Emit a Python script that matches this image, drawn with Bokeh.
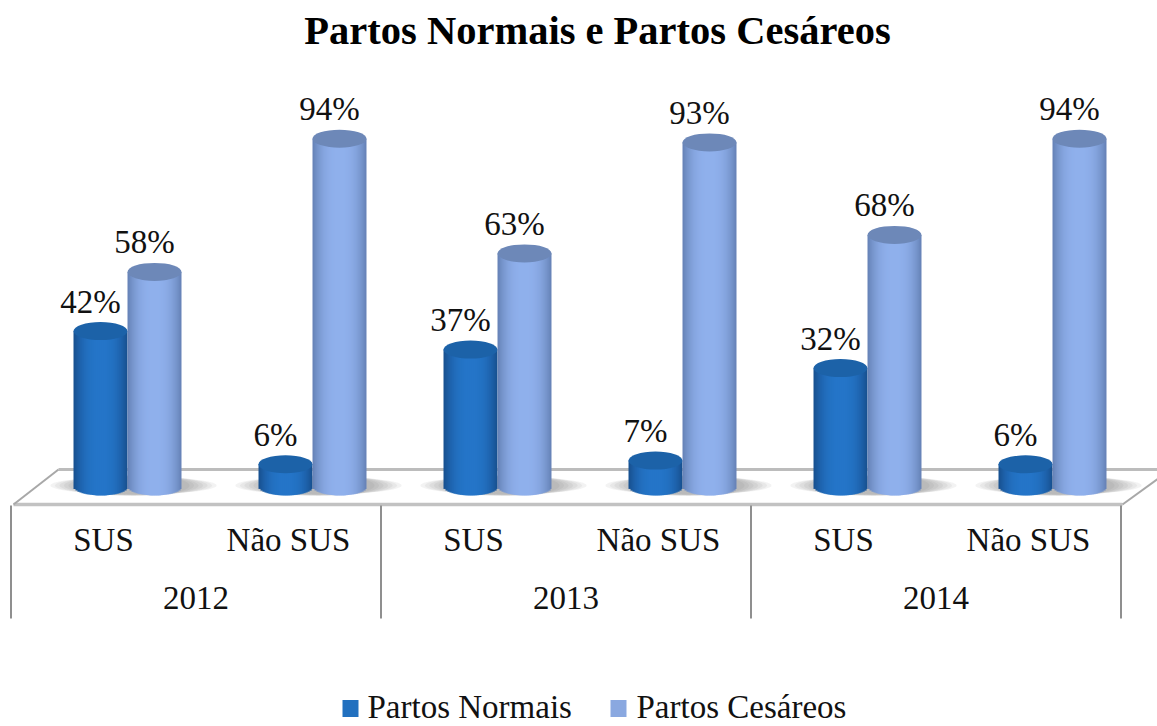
from bokeh.embed import file_html
from bokeh.resources import INLINE
from bokeh.plotting import figure
from bokeh.core.properties import value
from bokeh.models import ColumnDataSource

title = "Partos Normais e Partos Cesáreos"
years = ["2012", "2013", "2014"]
categories = ["SUS", "Não SUS", "SUS", "Não SUS", "SUS", "Não SUS"]
series_names = ["Partos Normais", "Partos Cesáreos"]
normais = [42, 6, 37, 7, 32, 6]
cesareos = [58, 94, 63, 93, 68, 94]

W, H = 1157, 726
SX = 185.0       # px per category
SY = 3.7         # px per percent
X0 = 103.0       # picture x of category 0 label
Y0 = 486.0       # picture y of 0 %
BAR = 54.0
ELL = 18.0
FONT = value("Liberation Serif")


def fx(px):
    return (px - X0) / SX


def fy(py):
    return (Y0 - py) / SY


def hexmix(a, b, t):
    ca = [int(a[i:i + 2], 16) for i in (1, 3, 5)]
    cb = [int(b[i:i + 2], 16) for i in (1, 3, 5)]
    return "#%02x%02x%02x" % tuple(round(x + (y - x) * t) for x, y in zip(ca, cb))


p = figure(width=W, height=H, output_backend="svg", toolbar_location=None,
           x_range=(fx(0), fx(W)), y_range=(fy(H), fy(0)),
           min_border=0, outline_line_color=None, background_fill_color="white")
p.xaxis.visible = False
p.yaxis.visible = False
p.grid.visible = False

# floor of the 3D chart
p.patch([fx(13), fx(58), fx(1180), fx(1122)], [fy(504), fy(469), fy(469), fy(504)],
        fill_color="#ffffff", line_color=None)
p.line([fx(58), fx(1180)], [fy(469)] * 2, line_color="#bcbcbc", line_width=3)
p.line([fx(13), fx(1122)], [fy(504)] * 2, line_color="#c2c2c2", line_width=3.5)
p.line([fx(13), fx(58)], [fy(504), fy(469)], line_color="#a8a8a8", line_width=2)
p.line([fx(1122), fx(1180)], [fy(504), fy(462)], line_color="#a8a8a8", line_width=2)

# group separators on the category axis
bounds = [-0.5 + 2 * i for i in range(len(years) + 1)]
p.segment(bounds, [fy(505)] * 4, bounds, [fy(618)] * 4, line_color="#8f8f8f", line_width=2)

# shadows on the floor, behind each pair of cylinders
centers = [i + 24 / SX for i in range(len(categories))]
for level in range(7):
    p.ellipse(x=[c + 6 / SX for c in centers], y=[fy(485)] * 6,
              width=[166 - level * 9] * 6, height=[18 + level * 0.5] * 6,
              width_units="screen", height_units="screen",
              fill_color="#606060", fill_alpha=0.08, line_color=None)


def cylinder(vals, shift, centre, edge, top):
    strips = 27
    left, right, tops, bottoms, colors = [], [], [], [], []
    for i, c in enumerate(centers):
        for s in range(strips):
            u0 = -1 + 2 * s / strips
            u1 = -1 + 2 * (s + 1) / strips
            um = (u0 + u1) / 2
            left.append(c + (shift + u0 * BAR / 2) / SX)
            right.append(c + (shift + min(u1 + 0.04, 1) * BAR / 2) / SX)
            tops.append(vals[i])
            bottoms.append(-(ELL / 2 / SY) * (1 - um * um) ** 0.5)
            colors.append(hexmix(centre, edge, abs(um) ** 2.6))
    p.quad(left=left, right=right, top=tops, bottom=bottoms,
           fill_color=colors, line_color=None)
    p.ellipse(x=[c + shift / SX for c in centers], y=vals,
              width=BAR, height=ELL, width_units="screen", height_units="screen",
              fill_color=top, line_color=None)


cylinder(normais, -27, "#2475c8", "#174e8c", "#1c62a8")
cylinder(cesareos, 27, "#8fb0ec", "#6480b4", "#6d88b8")


def labels(vals, shift):
    src = ColumnDataSource(dict(x=[c + (shift - 10) / SX for c in centers],
                                y=[v + 29.5 / SY for v in vals],
                                t=["%d%%" % v for v in vals]))
    p.text(x="x", y="y", text="t", source=src, text_font=FONT, text_font_size="33px",
           text_color="#111111", text_align="center", text_baseline="middle")


labels(normais, -27)
labels(cesareos, 27)

# category labels and years
p.text(x=list(range(len(categories))), y=[fy(539)] * len(categories), text=categories,
       text_font=FONT, text_font_size="33px", text_color="#111111",
       text_align="center", text_baseline="middle")
p.text(x=[0.5 + 2 * i for i in range(len(years))], y=[fy(597)] * len(years), text=years,
       text_font=FONT, text_font_size="33px", text_color="#111111",
       text_align="center", text_baseline="middle")

# title
p.text(x=[fx(597)], y=[fy(30)], text=[title], text_font=FONT, text_font_size="40.5px",
       text_font_style="bold", text_color="#000000",
       text_align="center", text_baseline="middle")

# legend
LEG_Y = 706
p.rect(x=[fx(350), fx(618)], y=[fy(LEG_Y + 2)] * 2, width=16, height=17,
       width_units="screen", height_units="screen",
       fill_color=["#2170bf", "#8aa8e0"], line_color=None)
p.text(x=[fx(367), fx(636)], y=[fy(LEG_Y)] * 2, text=series_names,
       text_font=FONT, text_font_size="33px", text_color="#111111",
       text_align="left", text_baseline="middle")

open("out.html", "w").write(file_html(p, INLINE))
